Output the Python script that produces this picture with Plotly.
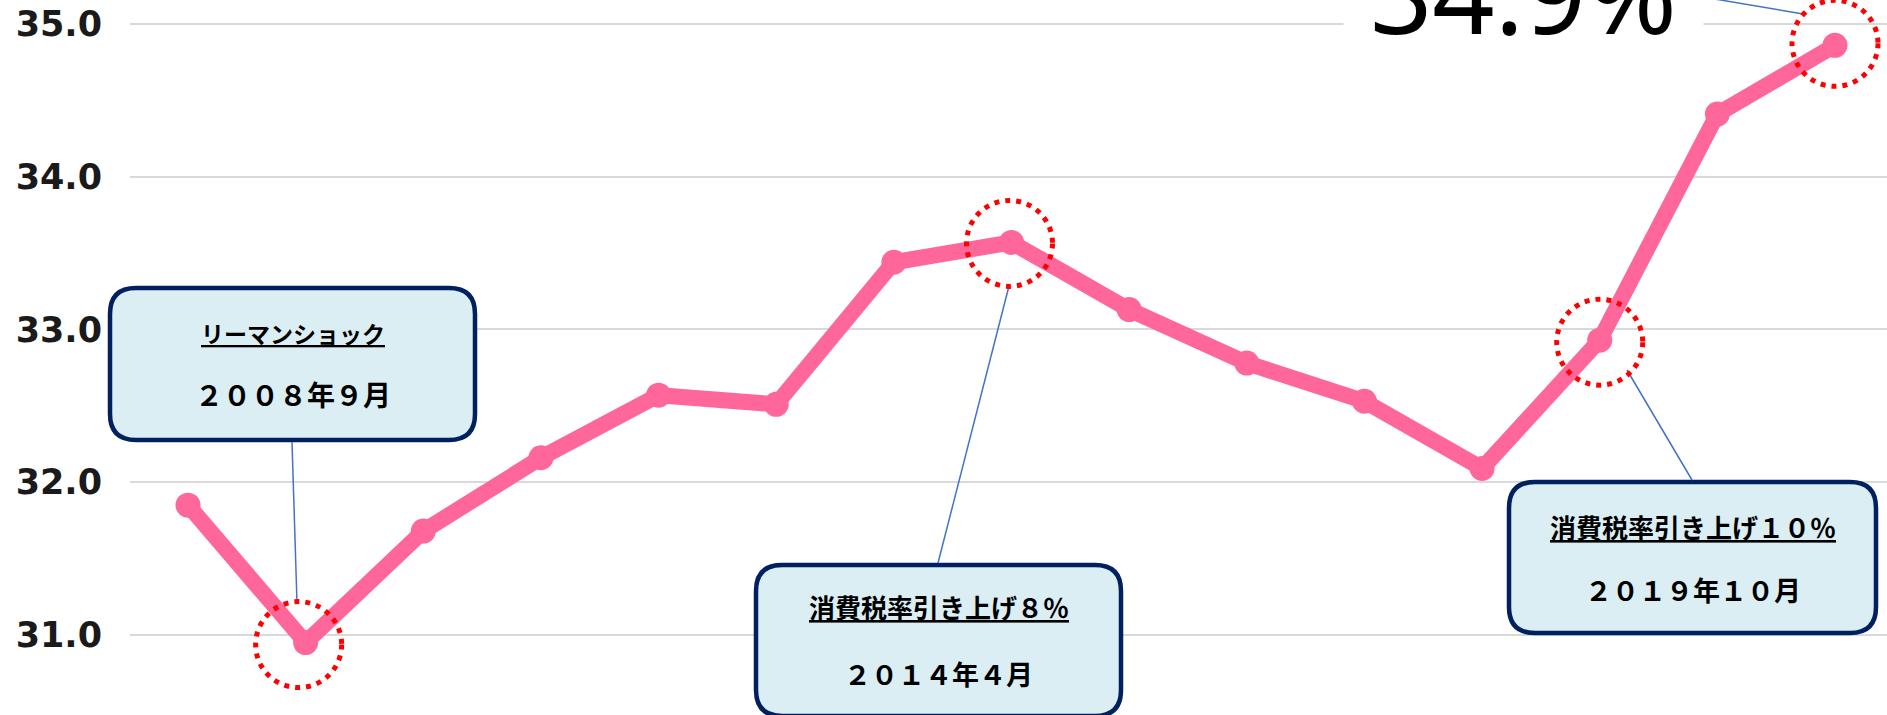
import plotly.graph_objects as go

# ---------------- data ----------------
years = list(range(2007, 2022))
values = [31.85, 30.95, 31.68, 32.16, 32.57, 32.51, 33.44, 33.57,
          33.13, 32.78, 32.53, 32.09, 32.93, 34.41, 34.86]
y_ticks = [31, 32, 33, 34, 35]

event_years = [2008, 2014, 2019]
event_titles = ["リーマンショック", "消費税率引き上げ８％", "消費税率引き上げ１０％"]
event_dates = ["２００８年９月", "２０１４年４月", "２０１９年１０月"]
highlight_years = [2008, 2014, 2019, 2021]
latest_label = "34.9%"

# ---------------- layout geometry (pixels) ----------------
W, H = 1887, 715
ML, MR, MT, MB = 130, 0, 0, 0
PW, PH = W - ML - MR, H - MT - MB

def px(x):
    return (x - ML) / PW

def py(y):
    return 1 - (y - MT) / PH

def P(x, y):
    return f"{px(x):.5f},{py(y):.5f}"

def rounded_rect(x0, y0, x1, y1, r):
    return (f"M {P(x0 + r, y0)} L {P(x1 - r, y0)} Q {P(x1, y0)} {P(x1, y0 + r)} "
            f"L {P(x1, y1 - r)} Q {P(x1, y1)} {P(x1 - r, y1)} "
            f"L {P(x0 + r, y1)} Q {P(x0, y1)} {P(x0, y1 - r)} "
            f"L {P(x0, y0 + r)} Q {P(x0, y0)} {P(x0 + r, y0)} Z")

LINE_COLOR = "#FF6699"

fig = go.Figure()
fig.add_trace(go.Scatter(
    x=years, y=values, mode="lines+markers",
    line=dict(color=LINE_COLOR, width=16),
    marker=dict(color=LINE_COLOR, size=25, line=dict(width=0)),
    hoverinfo="skip", showlegend=False,
))

shapes = []
annotations = []

# callout boxes (pixel boxes) and text
boxes = [(110, 288, 475, 440), (756, 565, 1121, 716), (1509, 482, 1876, 633)]
title_y = [333, 606, 526]
date_y = [394, 673, 589]
title_size = [23, 26, 26]
date_size = [28, 27, 27]
for (x0, y0, x1, y1), t, d, ty, dy, ts, dsz in zip(boxes, event_titles, event_dates,
                                                   title_y, date_y, title_size, date_size):
    shapes.append(dict(type="path", xref="paper", yref="paper",
                       path=rounded_rect(x0, y0, x1, y1, 26),
                       fillcolor="#DAEEF3", line=dict(color="#002060", width=4.5),
                       layer="above"))
    cx = (x0 + x1) / 2
    annotations.append(dict(xref="paper", yref="paper", x=px(cx), y=py(ty),
                            xanchor="center", yanchor="middle", showarrow=False,
                            text=t,
                            font=dict(family="Noto Sans CJK JP", size=ts, color="#000000",
                                      weight="bold", lineposition="under")))
    annotations.append(dict(xref="paper", yref="paper", x=px(cx), y=py(dy),
                            xanchor="center", yanchor="middle", showarrow=False,
                            text=d,
                            font=dict(family="Noto Sans CJK JP", size=dsz, color="#000000",
                                      weight="bold")))

# connector lines (pixels)
connectors = [((292, 442), (297, 603)), ((1009, 286), (938, 563)),
              ((1627, 370), (1692, 480)), ((1700, -3.5), (1803, 14))]
for (ax, ay), (bx, by) in connectors:
    shapes.append(dict(type="line", xref="paper", yref="paper",
                       x0=px(ax), y0=py(ay), x1=px(bx), y1=py(by),
                       line=dict(color="#4472C4", width=1.5), layer="above"))

# dotted red circles around highlighted points
circle_offsets = {2008: (-7, -2), 2014: (-2, -1), 2019: (0, -2), 2021: (0, 2)}
for yr in highlight_years:
    v = values[years.index(yr)]
    dx, dy = circle_offsets[yr]
    shapes.append(dict(type="circle", xref="x", yref="y",
                       xsizemode="pixel", ysizemode="pixel",
                       xanchor=yr, yanchor=v,
                       x0=-43 + dx, x1=43 + dx, y0=-43 + dy, y1=43 + dy,
                       line=dict(color="#FF0000", width=5, dash="5px,6px"),
                       layer="above"))

# big latest-value label (partly above the visible area)
annotations.append(dict(xref="paper", yref="paper", x=px(1523), y=py(-8),
                        xanchor="center", yanchor="middle", showarrow=False,
                        text=latest_label, bgcolor="#FFFFFF", borderpad=26,
                        font=dict(family="Noto Sans", size=109, color="#000000")))

fig.update_layout(
    width=W, height=H,
    margin=dict(l=ML, r=MR, t=MT, b=MB, pad=0),
    paper_bgcolor="#FFFFFF", plot_bgcolor="#FFFFFF",
    showlegend=False, hovermode=False,
    xaxis=dict(range=[2006.507, 2021.442], visible=False, showgrid=False, zeroline=False),
    yaxis=dict(range=[30.476, 35.157], tickvals=y_ticks, tickformat=".1f",
               showgrid=True, gridcolor="#D9D9D9", gridwidth=2, zeroline=False,
               showline=False, ticks="", ticklabelstandoff=27,
               tickfont=dict(family="DejaVu Sans", size=35,
                             color="#1A1A1A", weight="bold")),
    shapes=shapes, annotations=annotations,
)

fig.write_html("out.html", config={"displayModeBar": False, "staticPlot": True},
               post_script="document.body.style.margin='0';")
